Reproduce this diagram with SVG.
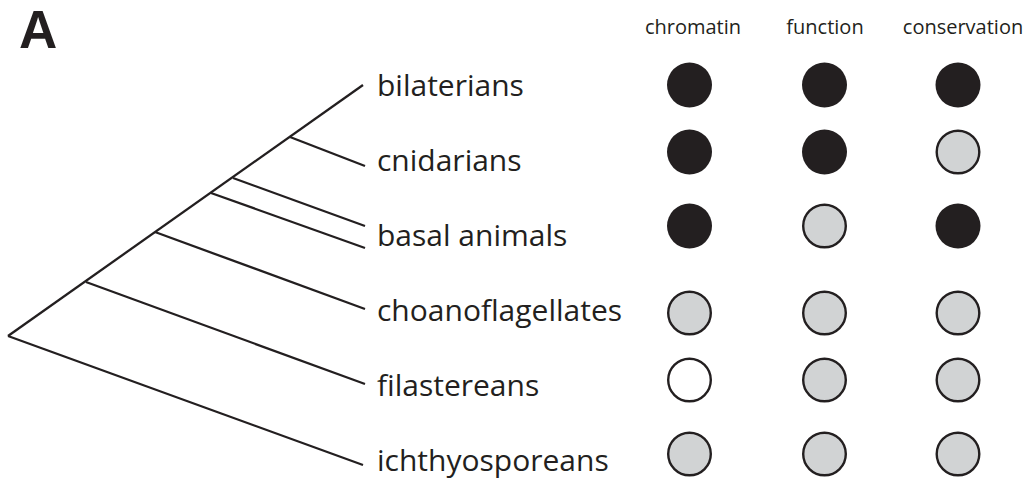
<svg xmlns="http://www.w3.org/2000/svg" width="1030" height="484" viewBox="0 0 1030 484">
<style>
.br{stroke:#231f20;stroke-width:2.3;fill:none;stroke-linecap:butt}
.lbl{font-family:"Open Sans","Noto Sans",sans-serif;font-size:30px;fill:#231f20}
.hdr{font-family:"Open Sans","Noto Sans",sans-serif;font-size:20px;fill:#231f20;text-anchor:middle}
.full{fill:#231f20}
.part{fill:#d1d3d4;stroke:#231f20;stroke-width:2.4}
.none{fill:#ffffff;stroke:#231f20;stroke-width:2.4}
</style>
<rect width="1030" height="484" fill="#ffffff"/>
<text x="19" y="48" style="font-family:'Liberation Sans',Arial,sans-serif;font-weight:bold;font-size:53px;fill:#231f20">A</text>
<g id="connectors">
<line class="br" x1="8" y1="336" x2="363" y2="85"/>
<line class="br" x1="290" y1="137" x2="365" y2="166"/>
<line class="br" x1="233" y1="178" x2="365" y2="226"/>
<line class="br" x1="211" y1="193" x2="365" y2="248"/>
<line class="br" x1="155" y1="232" x2="365" y2="309"/>
<line class="br" x1="86" y1="282" x2="365" y2="384"/>
<line class="br" x1="8" y1="336" x2="363" y2="465"/>
</g>
<g id="headers">
<text class="hdr" x="693" y="34">chromatin</text>
<text class="hdr" x="825" y="34">function</text>
<text class="hdr" x="963" y="34">conservation</text>
</g>
<g id="bilaterians">
<text class="lbl" x="377" y="96">bilaterians</text>
<circle class="full" cx="689.5" cy="85" r="22.5"/>
<circle class="full" cx="824.5" cy="85" r="22.5"/>
<circle class="full" cx="958" cy="85" r="22.5"/>
</g>
<g id="cnidarians">
<text class="lbl" x="377" y="171">cnidarians</text>
<circle class="full" cx="689.5" cy="152" r="22.5"/>
<circle class="full" cx="824.5" cy="152" r="22.5"/>
<circle class="part" cx="958" cy="152" r="21.3"/>
</g>
<g id="basal-animals">
<text class="lbl" x="377" y="246">basal animals</text>
<circle class="full" cx="689.5" cy="226" r="22.5"/>
<circle class="part" cx="824.5" cy="226" r="21.3"/>
<circle class="full" cx="958" cy="226" r="22.5"/>
</g>
<g id="choanoflagellates">
<text class="lbl" x="377" y="321">choanoflagellates</text>
<circle class="part" cx="689.5" cy="313" r="21.3"/>
<circle class="part" cx="824.5" cy="313" r="21.3"/>
<circle class="part" cx="958" cy="313" r="21.3"/>
</g>
<g id="filastereans">
<text class="lbl" x="377" y="396">filastereans</text>
<circle class="none" cx="689.5" cy="380" r="21.3"/>
<circle class="part" cx="824.5" cy="380" r="21.3"/>
<circle class="part" cx="958" cy="380" r="21.3"/>
</g>
<g id="ichthyosporeans">
<text class="lbl" x="377" y="471">ichthyosporeans</text>
<circle class="part" cx="689.5" cy="454" r="21.3"/>
<circle class="part" cx="824.5" cy="454" r="21.3"/>
<circle class="part" cx="958" cy="454" r="21.3"/>
</g>
</svg>
